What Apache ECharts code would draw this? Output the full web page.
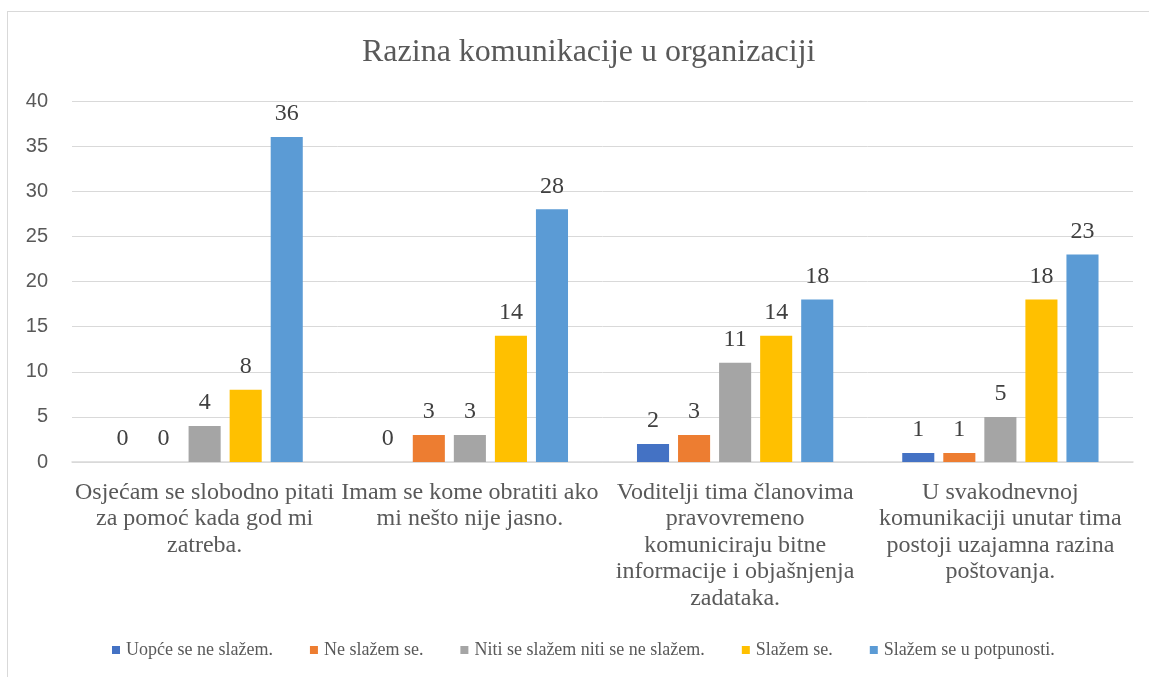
<!DOCTYPE html>
<html>
<head>
<meta charset="utf-8">
<script src="https://cdn.jsdelivr.net/npm/echarts@6/dist/echarts.min.js"></script>
<style>
  body { margin: 0; background: #fff; }
  #frame { position: absolute; left: 7px; top: 11px; width: 1160px; height: 700px; border: 1px solid #d9d9d9; }
  #main { position: absolute; left: 0; top: 0; width: 1149px; height: 677px; }
</style>
</head>
<body>
<div id="frame"></div>
<div id="main"></div>
<script>
var categories = [
  'Osjećam se slobodno pitati\nza pomoć kada god mi\nzatreba.',
  'Imam se kome obratiti ako\nmi nešto nije jasno.',
  'Voditelji tima članovima\npravovremeno\nkomuniciraju bitne\ninformacije i objašnjenja\nzadataka.',
  'U svakodnevnoj\nkomunikaciji unutar tima\npostoji uzajamna razina\npoštovanja.'
];
var seriesNames = ['Uopće se ne slažem.', 'Ne slažem se.', 'Niti se slažem niti se ne slažem.', 'Slažem se.', 'Slažem se u potpunosti.'];
var uopce = [0, 0, 2, 1];
var ne = [0, 3, 3, 1];
var niti = [4, 3, 11, 5];
var slazem = [8, 14, 14, 18];
var potpuno = [36, 28, 18, 23];
var colors = ['#4472C4', '#ED7D31', '#A5A5A5', '#FFC000', '#5B9BD5'];

var values = [uopce, ne, niti, slazem, potpuno];
// zero labels are only printed for the first empty bars of a group, as in the original
var hideZero = [[false, false, false, false], [false, true, false, false], [true, true, false, false], [true, true, true, true], [true, true, true, true]];

var chart = echarts.init(document.getElementById('main'));
var serif = '"Liberation Serif", "Times New Roman", serif';

var series = seriesNames.map(function (name, i) {
  return {
    name: name,
    type: 'bar',
    barGap: '28%',
    barCategoryGap: '26%',
    itemStyle: { color: colors[i] },
    label: {
      show: true,
      position: 'top',
      distance: 11,
      fontFamily: serif,
      fontSize: 24,
      color: '#404040'
    },
    data: values[i].map(function (v, j) {
      if (v === 0 && hideZero[i][j]) {
        return { value: v, label: { show: false } };
      }
      return v;
    })
  };
});

var option = {
  animation: false,
  color: colors,
  title: {
    text: 'Razina komunikacije u organizaciji',
    left: 357,
    top: 32,
    textStyle: { fontFamily: serif, fontSize: 32, fontWeight: 'normal', color: '#595959' }
  },
  legend: {
    data: seriesNames,
    top: 641,
    left: 112,
    padding: 0,
    icon: 'rect',
    itemWidth: 8,
    itemHeight: 8,
    itemGap: 37,
    textStyle: { fontFamily: serif, fontSize: 18, color: '#595959', padding: [0, 0, 0, 1] }
  },
  grid: { left: 72, right: 16, top: 101, bottom: 215, containLabel: false },
  xAxis: {
    type: 'category',
    data: categories,
    axisLine: { lineStyle: { color: '#d9d9d9', width: 1.5 } },
    axisTick: { show: false },
    axisLabel: {
      interval: 0,
      margin: 17,
      fontFamily: serif,
      fontSize: 24,
      lineHeight: 26.5,
      color: '#595959',
      align: 'center'
    }
  },
  yAxis: {
    type: 'value',
    min: 0,
    max: 40,
    interval: 5,
    axisLine: { show: false },
    axisTick: { show: false },
    splitLine: { lineStyle: { color: '#d9d9d9', width: 1 } },
    axisLabel: {
      margin: 24,
      fontFamily: '"Liberation Sans", Arial, sans-serif',
      fontSize: 20,
      color: '#595959'
    }
  },
  series: series
};
chart.setOption(option);
</script>
</body>
</html>
